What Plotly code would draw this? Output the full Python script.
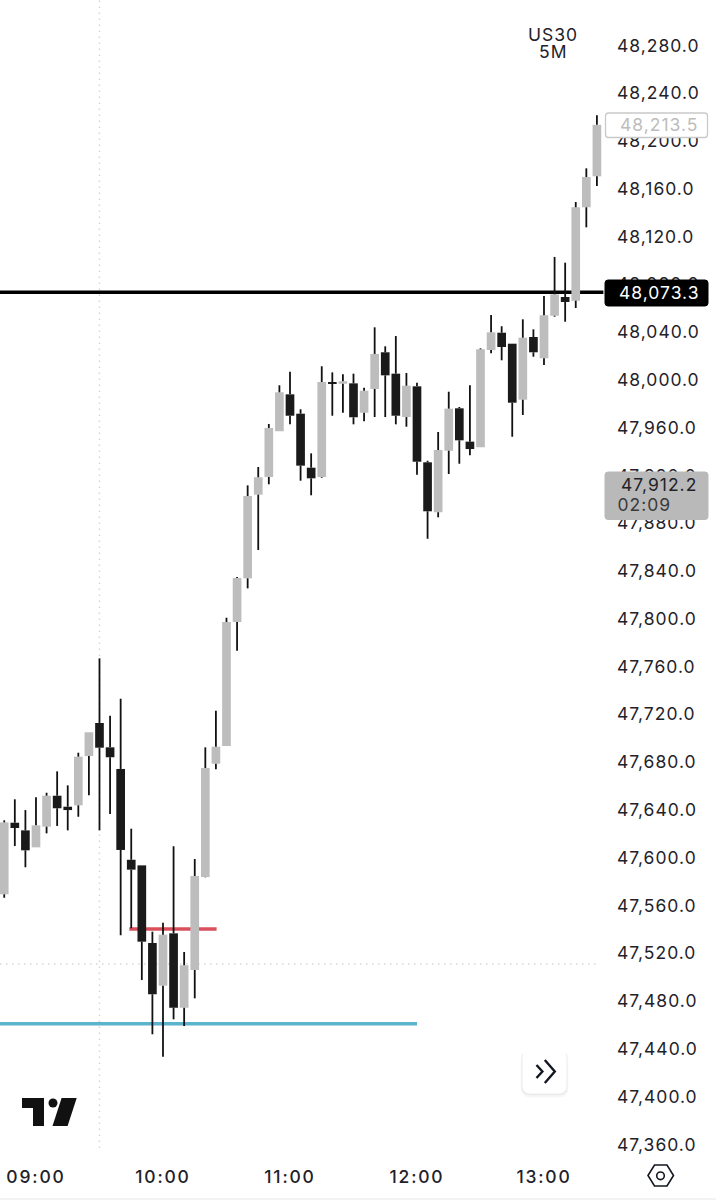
import pandas as pd
import plotly.graph_objs as go

SYMBOL = "US30"
TIMEFRAME = "5M"
DAY = "2025-12-11"

# 5 minute candles, 08:45 to 13:25
times = pd.date_range(DAY + " 08:45", periods=57, freq="5min")

opens = [47569.4, 47629.3, 47622.9, 47608.7, 47626.0, 47651.9, 47642.7, 47643.9, 47685.1, 47712.8,
         47692.4, 47674.3, 47598.3, 47593.6, 47528.6, 47492.9, 47536.7, 47474.4, 47506.0, 47583.9,
         47678.7, 47693.5, 47797.3, 47833.9, 47903.9, 47918.7, 47957.0, 47987.9, 47971.7, 47926.5,
         47918.7, 47997.6, 47996.8, 47997.1, 47972.5, 47992.4, 48023.1, 48005.2, 47968.9, 47994.6,
         47931.0, 47889.2, 47940.7, 47976.2, 47948.3, 47943.6, 48025.0, 48039.5, 48030.3, 47983.4,
         48035.9, 48018.1, 48053.7, 48069.4, 48066.3, 48144.5, 48170.4]
highs = [47631.3, 47648.9, 47639.9, 47650.6, 47654.4, 47672.3, 47660.6, 47687.9, 47705.0, 47766.9,
         47718.9, 47733.1, 47624.3, 47593.6, 47538.1, 47545.6, 47609.6, 47521.1, 47598.9, 47692.4,
         47723.1, 47800.9, 47835.0, 47911.7, 47927.1, 47963.1, 47995.5, 48006.8, 47975.4, 47938.5,
         48011.4, 48006.3, 48004.7, 48005.2, 47993.5, 48044.0, 48028.1, 48036.7, 48005.8, 47997.6,
         47932.3, 47956.4, 47990.1, 47977.3, 47995.5, 48026.4, 48054.3, 48044.9, 48030.3, 48050.7,
         48042.3, 48070.2, 48102.9, 48098.1, 48148.9, 48177.1, 48221.5]
lows = [47566.5, 47609.8, 47592.0, 47608.7, 47620.4, 47626.6, 47622.9, 47634.3, 47652.3, 47622.9,
        47636.6, 47535.1, 47540.9, 47497.6, 47452.2, 47433.4, 47464.7, 47459.1, 47482.3, 47583.6,
        47674.0, 47693.5, 47773.3, 47825.5, 47857.6, 47912.6, 47957.0, 47962.8, 47915.6, 47903.4,
        47918.1, 47970.0, 47972.5, 47962.8, 47965.3, 47968.9, 47968.9, 47962.8, 47960.8, 47920.6,
        47867.0, 47885.0, 47921.2, 47929.8, 47936.9, 47943.6, 48022.3, 48016.4, 47952.4, 47970.6,
        48019.4, 48012.5, 48052.9, 48048.7, 48060.2, 48127.7, 48162.3]
closes = [47629.6, 47624.9, 47606.2, 47627.1, 47651.9, 47641.4, 47639.9, 47684.6, 47705.0, 47692.1,
          47684.1, 47606.5, 47590.0, 47529.7, 47485.7, 47535.6, 47474.4, 47510.0, 47584.7, 47675.1,
          47692.9, 47797.3, 47834.2, 47902.8, 47918.5, 47959.7, 47989.6, 47970.0, 47928.2, 47917.6,
          47998.2, 47996.8, 47998.8, 47968.7, 47990.9, 48021.7, 48003.8, 47970.0, 47995.1, 47931.5,
          47890.0, 47941.3, 47975.9, 47949.4, 47942.1, 48025.6, 48039.8, 48027.5, 47980.9, 48035.3,
          48023.1, 48054.1, 48071.6, 48065.2, 48144.5, 48169.8, 48213.5]

hour_ticks = ["09:00", "10:00", "11:00", "12:00", "13:00"]

last_price = "48,213.5"
alert_price = 48073.3
alert_label = "48,073.3"
tag_price = "47,912.2"
tag_countdown = "02:09"
red_level = 47540.3
blue_level = 47461.0
crosshair_price = 47511.0
crosshair_low = 47357.0
crosshair_time = "09:30"

WIDTH = 716
HEIGHT = 1200
PLOT_W = 604
PLOT_H = 1160

UP = "#bdbdbd"
DOWN = "#1a1a1a"
WICK = "#111111"
TEXT = "#1f2229"
DOTS = "1.5px,4.5px"

# plotly has no letter spacing setting, the app's font is tracked wider than Inter
TRACKING = ("var s=document.createElement('style');"
            "s.textContent='.ytick text,.annotation-text{letter-spacing:1px}"
            ".xtick text{letter-spacing:1.8px}';"
            "document.head.appendChild(s);document.body.style.margin='0';")


def stamp(hhmm):
  return DAY + " " + hhmm


def px_x(x):
  return x / PLOT_W


def px_y(y):
  return 1 - y / PLOT_H


def poly(points):
  path = ""
  for i, p in enumerate(points):
    path += ("M" if i == 0 else "L") + f"{px_x(p[0]):.5f},{px_y(p[1]):.5f} "
  return path + "Z"


def round_box(x0, y0, x1, y1, r, fill, border=None, width=1):
  a, b, c, d = px_x(x0), px_x(x1), px_y(y0), px_y(y1)
  rx = r / PLOT_W
  ry = r / PLOT_H
  path = (f"M{a + rx:.5f},{c:.5f} L{b - rx:.5f},{c:.5f} Q{b:.5f},{c:.5f} {b:.5f},{c - ry:.5f} "
          f"L{b:.5f},{d + ry:.5f} Q{b:.5f},{d:.5f} {b - rx:.5f},{d:.5f} "
          f"L{a + rx:.5f},{d:.5f} Q{a:.5f},{d:.5f} {a:.5f},{d + ry:.5f} "
          f"L{a:.5f},{c - ry:.5f} Q{a:.5f},{c:.5f} {a + rx:.5f},{c:.5f} Z")
  return dict(type="path", xref="paper", yref="paper", path=path, fillcolor=fill,
              line=dict(color=border if border else fill, width=width), layer="above")


def label(x, y, text, color, size=17.5, weight=400):
  return dict(xref="paper", yref="paper", x=px_x(x), y=px_y(y), text=text, showarrow=False,
              xanchor="center", yanchor="middle", font=dict(color=color, size=size, weight=weight))


# wicks stop at the body so the order of the layers does not matter
wick_x = []
wick_y = []
for t, o, h, l, c in zip(times, opens, highs, lows, closes):
  wick_x += [t, t, None, t, t, None]
  wick_y += [h, max(o, c), None, min(o, c), l, None]

bodies = go.Bar(
  x=times,
  base=[min(o, c) for o, c in zip(opens, closes)],
  y=[max(abs(c - o), 1.0) for o, c in zip(opens, closes)],
  width=246000,
  marker=dict(color=[UP if c >= o else DOWN for o, c in zip(opens, closes)], line_width=0),
  hoverinfo="skip")

wicks = go.Scatter(x=wick_x, y=wick_y, mode="lines", line=dict(color=WICK, width=1.8),
                   connectgaps=False, hoverinfo="skip")

fig = go.Figure(data=[bodies, wicks])

shapes = [
  dict(type="line", xref="x", yref="y", x0=stamp(crosshair_time), x1=stamp(crosshair_time),
       y0=crosshair_low, y1=48318, layer="below", line=dict(color="#d8d8d8", width=1.5, dash=DOTS)),
  dict(type="line", xref="paper", yref="y", x0=0, x1=0.993, y0=crosshair_price, y1=crosshair_price,
       layer="below", line=dict(color="#d8d8d8", width=1.5, dash=DOTS)),
  dict(type="line", xref="paper", yref="y", x0=0, x1=0.999, y0=alert_price, y1=alert_price,
       layer="below", line=dict(color="#000000", width=3.4)),
  dict(type="line", xref="x", yref="y", x0=stamp("09:44:06"), x1=stamp("10:25:20"), y0=red_level, y1=red_level,
       layer="below", line=dict(color="#d9505c", width=3.4)),
  dict(type="line", xref="paper", yref="y", x0=0, x1=px_x(417), y0=blue_level, y1=blue_level,
       layer="below", line=dict(color="#5bb4cc", width=3.4)),
  # price tags over the axis
  round_box(605.5, 113, 707.5, 137.5, 3, "#ffffff", "#c9c9c9", 1.3),
  round_box(605, 280, 708, 306, 3, "#000000"),
  round_box(605, 472, 708, 519.5, 3, "#b9b9b9"),
  # logo
  dict(type="path", xref="paper", yref="paper", layer="above", fillcolor="#111111", line_width=0,
       path=poly([(22, 1098), (44, 1098), (44, 1126), (33, 1126), (33, 1108), (22, 1108)])),
  dict(type="circle", xref="paper", yref="paper", layer="above", fillcolor="#111111", line_width=0,
       x0=px_x(48.5), x1=px_x(57.5), y0=px_y(1107.5), y1=px_y(1098.5)),
  dict(type="path", xref="paper", yref="paper", layer="above", fillcolor="#111111", line_width=0,
       path=poly([(61.6, 1098), (76.7, 1098), (67.6, 1126), (52.5, 1126)])),
  # scroll button, soft shadow first
  round_box(521, 1051, 568, 1097, 9, "rgba(0,0,0,0.025)"),
  round_box(522, 1050, 567, 1095, 8, "rgba(0,0,0,0.04)"),
  round_box(523, 1049, 566, 1093, 7, "#ffffff"),
  dict(type="path", xref="paper", yref="paper", layer="above", line=dict(color="#131722", width=2.4),
       path=f"M{px_x(536.5):.5f},{px_y(1065):.5f} L{px_x(542.4):.5f},{px_y(1071.5):.5f} L{px_x(536.5):.5f},{px_y(1078):.5f}"),
  dict(type="path", xref="paper", yref="paper", layer="above", line=dict(color="#131722", width=2.4),
       path=f"M{px_x(544.8):.5f},{px_y(1060):.5f} L{px_x(554.8):.5f},{px_y(1071.5):.5f} L{px_x(544.8):.5f},{px_y(1083):.5f}"),
  # settings hexagon
  dict(type="path", xref="paper", yref="paper", layer="above", line=dict(color="#131722", width=1.6),
       path=poly([(648, 1175.5), (654.5, 1165), (667, 1165), (673.5, 1175.5), (667, 1186), (654.5, 1186)])),
  dict(type="circle", xref="paper", yref="paper", layer="above", line=dict(color="#131722", width=1.6),
       x0=px_x(656.7), x1=px_x(664.3), y0=px_y(1179.6), y1=px_y(1172)),
  # strip of the next screen at the very bottom
  dict(type="rect", xref="paper", yref="paper", layer="above", fillcolor="#f3f3f3", line_width=0,
       x0=0, x1=WIDTH / PLOT_W, y0=px_y(1200), y1=px_y(1198)),
]

annotations = [
  label(553, 34, SYMBOL, TEXT),
  label(553, 52, TIMEFRAME, TEXT),
  label(658.5, 124.5, last_price, "#bdbdbd"),
  label(658.5, 292.5, alert_label, "#ffffff"),
  label(658.5, 484, tag_price, "#1f2229"),
  label(644.5, 505, tag_countdown, "#3a3a3a"),
]

fig.update_layout(
  width=WIDTH,
  height=HEIGHT,
  margin=dict(l=0, r=WIDTH - PLOT_W, t=0, b=HEIGHT - PLOT_H, autoexpand=False),
  paper_bgcolor="#ffffff",
  plot_bgcolor="#ffffff",
  showlegend=False,
  font=dict(family="Inter, Roboto, sans-serif", color=TEXT),
  shapes=shapes,
  annotations=annotations,
  xaxis=dict(
    type="date",
    range=[stamp("08:43:00"), stamp("13:28:21")],
    tickvals=[stamp(h) for h in hour_ticks],
    ticktext=hour_ticks,
    showgrid=False,
    zeroline=False,
    showline=False,
    ticks="",
    ticklabelstandoff=4,
    tickfont=dict(size=17.5, weight=500),
  ),
  yaxis=dict(
    side="right",
    range=[48318 - 0.8371 * PLOT_H, 48318],
    tick0=47360,
    dtick=40,
    tickformat=",.1f",
    showgrid=False,
    zeroline=False,
    showline=False,
    ticks="",
    ticklabelstandoff=12,
    tickfont=dict(size=17.5),
  ),
)

fig.write_html("out.html", config=dict(displayModeBar=False), post_script=TRACKING)
